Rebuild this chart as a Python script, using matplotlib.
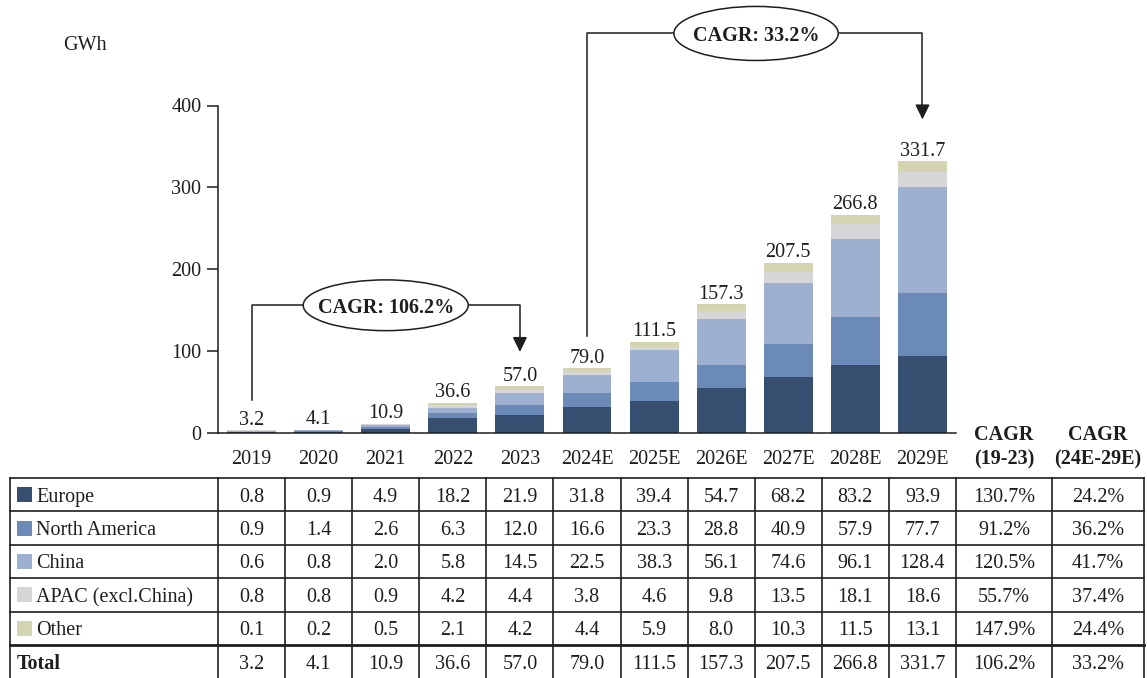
import matplotlib
matplotlib.use("Agg")
import matplotlib.pyplot as plt
from matplotlib.patches import Ellipse, Rectangle
import numpy as np

plt.rcParams["font.family"] = ["Liberation Serif", "DejaVu Serif"]

years = ["2019", "2020", "2021", "2022", "2023", "2024E", "2025E",
         "2026E", "2027E", "2028E", "2029E"]
regions = ["Europe", "North America", "China", "APAC (excl.China)", "Other"]
europe = [0.8, 0.9, 4.9, 18.2, 21.9, 31.8, 39.4, 54.7, 68.2, 83.2, 93.9]
north_america = [0.9, 1.4, 2.6, 6.3, 12.0, 16.6, 23.3, 28.8, 40.9, 57.9, 77.7]
china = [0.6, 0.8, 2.0, 5.8, 14.5, 22.5, 38.3, 56.1, 74.6, 96.1, 128.4]
apac = [0.8, 0.8, 0.9, 4.2, 4.4, 3.8, 4.6, 9.8, 13.5, 18.1, 18.6]
other = [0.1, 0.2, 0.5, 2.1, 4.2, 4.4, 5.9, 8.0, 10.3, 11.5, 13.1]
totals = [3.2, 4.1, 10.9, 36.6, 57.0, 79.0, 111.5, 157.3, 207.5, 266.8, 331.7]
cagr_19_23 = ["130.7%", "91.2%", "120.5%", "55.7%", "147.9%", "106.2%"]
cagr_24_29 = ["24.2%", "36.2%", "41.7%", "37.4%", "24.4%", "33.2%"]
cagr_hist_label = "CAGR: 106.2%"
cagr_fcst_label = "CAGR: 33.2%"

colors = ["#364e70", "#6c8ab8", "#9eb0cf", "#d6d6d8", "#d4d5b0"]
ink = "#1e1e1e"
fs = 14.5

W, H = 1147, 678
fig = plt.figure(figsize=(W / 100, H / 100), dpi=100)

# pixel layout of the chart / table grid
x_left, x_right = 218.0, 956.0
pitch = (x_right - x_left) / len(years)
y_base, y_top = 433.0, 105.5

# overlay axes in pixel coordinates for the table and loose labels
tx = fig.add_axes([0, 0, 1, 1])
tx.set_xlim(0, W)
tx.set_ylim(H, 0)
tx.axis("off")
tx.patch.set_visible(False)

# ======================
# ===== Bar chart =====
# ======================
ax = fig.add_axes([x_left / W, (H - y_base) / H,
                   (x_right - x_left) / W, (y_base - y_top) / H])
ax.patch.set_visible(False)
x = np.arange(len(years))
series = [europe, north_america, china, apac, other]
bottom = np.zeros(len(years))
for vals, c in zip(series, colors):
    ax.bar(x, vals, width=0.73, bottom=bottom, color=c, lw=0, zorder=2)
    bottom += np.array(vals)

for xi, t in zip(x, totals):
    ax.annotate(f"{t:.1f}", (xi, t), xytext=(0, 0.5), textcoords="offset points",
                ha="center", va="bottom", fontsize=fs, color=ink)

ax.set_xlim(-0.5, len(years) - 0.5)
ax.set_ylim(0, 400)
ax.set_yticks([0, 100, 200, 300, 400])
ax.set_xticks(x)
ax.set_xticklabels(years)
for s in ["top", "right"]:
    ax.spines[s].set_visible(False)
for s in ["left", "bottom"]:
    ax.spines[s].set_color(ink)
    ax.spines[s].set_linewidth(1.1)
ax.tick_params(axis="y", length=8, width=1.1, color=ink, pad=4,
               labelsize=fs, labelcolor=ink)
ax.tick_params(axis="x", length=0, pad=12, labelsize=fs, labelcolor=ink)


def cagr_bracket(x0, y0, x1, y1, tip, ex, ew, eh, label):
    ax.plot([x0, x0, x1, x1], [y0, y1, y1, tip + 12], color=ink, lw=1.1,
            clip_on=False, zorder=3)
    ax.annotate("", xy=(x1, tip), xytext=(x1, tip + 14),
                arrowprops=dict(arrowstyle="-|>,head_length=0.45,head_width=0.22",
                                mutation_scale=20, color=ink, lw=1.1,
                                shrinkA=0, shrinkB=0),
                annotation_clip=False)
    ax.add_patch(Ellipse((ex, y1), ew, eh, fc="white", ec=ink, lw=1.1,
                         clip_on=False, zorder=4))
    ax.text(ex, y1, label, ha="center", va="center_baseline", fontsize=fs,
            fontweight="bold", color=ink, zorder=5)


cagr_bracket(0, 40, 4, 156, 99, 2.0, 2.46, 62, cagr_hist_label)
cagr_bracket(5, 118, 10, 488, 383, 7.52, 2.45, 66, cagr_fcst_label)

tx.text(85, 45, "GWh", ha="center", va="center", fontsize=fs, color=ink)

# =================
# ===== Table =====
# =================
cagr_edges = [x_right, 1052.0, 1144.0]
col_edges = [10.0] + [x_left + pitch * i for i in range(len(years) + 1)] + cagr_edges[1:]
row_edges = [478 + 33.4 * i for i in range(7)]

for ce in col_edges:
    tx.plot([ce, ce], [row_edges[0], H], color=ink, lw=1.2)
for k, re in enumerate(row_edges[:-1]):
    tx.plot([col_edges[0], col_edges[-1]], [re, re], color=ink,
            lw=2.0 if k == 5 else 1.2)

# CAGR headers
for cx, period in zip([(cagr_edges[0] + cagr_edges[1]) / 2,
                       (cagr_edges[1] + cagr_edges[2]) / 2],
                      ["(19-23)", "(24E-29E)"]):
    tx.text(cx, 433, "CAGR", ha="center", va="center_baseline", fontsize=fs,
            fontweight="bold", color=ink)
    tx.text(cx, 457, period, ha="center", va="center_baseline", fontsize=fs,
            fontweight="bold", color=ink)

rows = series + [totals]
names = regions + ["Total"]
for r, (name, vals) in enumerate(zip(names, rows)):
    yc = (row_edges[r] + row_edges[r + 1]) / 2
    if r < len(regions):
        tx.add_patch(Rectangle((17, yc - 7.5), 15, 15, fc=colors[r], lw=0))
        tx.text(36, yc, name, ha="left", va="center_baseline", fontsize=fs,
                color=ink)
    else:
        tx.text(17, yc, name, ha="left", va="center_baseline", fontsize=fs,
                fontweight="bold", color=ink)
    for i, v in enumerate(vals):
        cx = x_left + pitch * (i + 0.5)
        tx.text(cx, yc, f"{v:.1f}", ha="center", va="center_baseline",
                fontsize=fs, color=ink)
    tx.text((cagr_edges[0] + cagr_edges[1]) / 2, yc, cagr_19_23[r],
            ha="center", va="center_baseline", fontsize=fs, color=ink)
    tx.text((cagr_edges[1] + cagr_edges[2]) / 2, yc, cagr_24_29[r],
            ha="center", va="center_baseline", fontsize=fs, color=ink)

plt.savefig("out.png", dpi=100)
plt.close()
